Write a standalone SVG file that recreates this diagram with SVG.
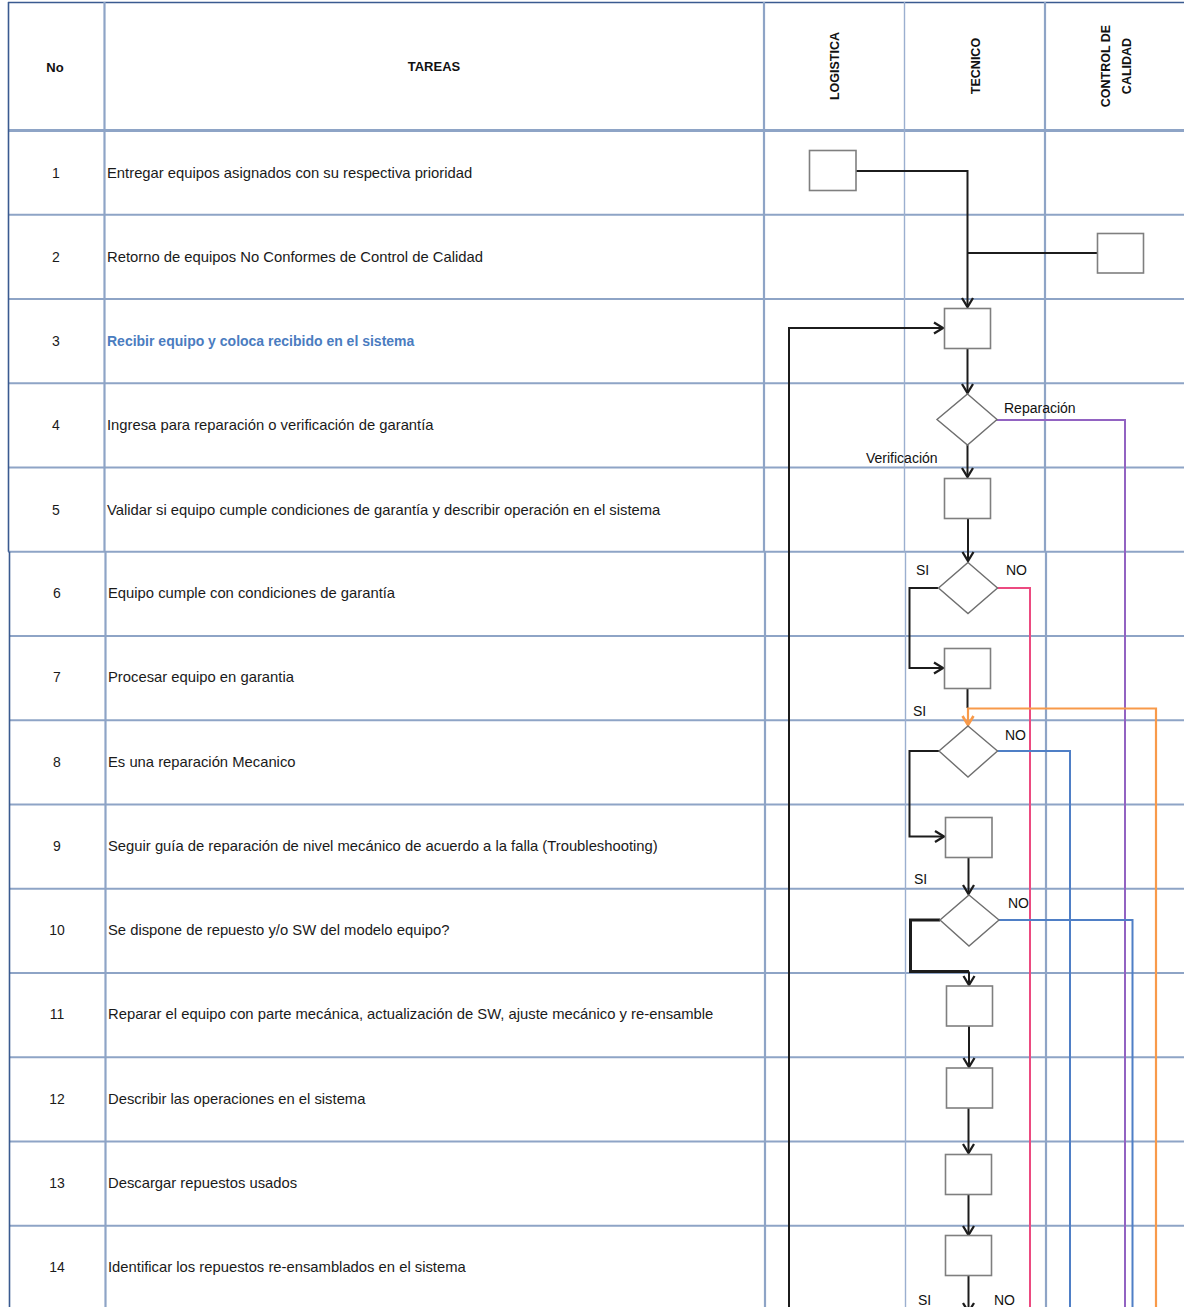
<svg xmlns="http://www.w3.org/2000/svg" width="1184" height="1307" viewBox="0 0 1184 1307">
<style>
.bg{fill:#ffffff}
.grid{stroke:#8ea4c6;stroke-width:2.2;fill:none}
.gridthin{stroke:#9bafcf;stroke-width:1.4;fill:none}
.edge{stroke:#3a5a90;stroke-width:1.6;fill:none}
.hdr{font-family:"Liberation Sans",Arial,sans-serif;font-weight:bold;fill:#111;}
.num{font-family:"Liberation Sans",Arial,sans-serif;font-size:14px;fill:#1a1a1a;text-anchor:middle}
.task{font-family:"Liberation Sans",Arial,sans-serif;font-size:14.8px;fill:#1a1a1a}
.task3{font-family:"Liberation Sans",Arial,sans-serif;font-size:14px;font-weight:bold;fill:#4a7cc0}
.lbl{font-family:"Liberation Sans",Arial,sans-serif;font-size:14px;fill:#111}
.box{fill:#ffffff;stroke:#7f7f7f;stroke-width:1.6}
.dia{fill:#ffffff;stroke:#6f6f6f;stroke-width:1.4}
.k{stroke:#1c1c1c;stroke-width:2;fill:none}
.kk{stroke:#1c1c1c;stroke-width:3;fill:none}
.pink{stroke:#ec4a80;stroke-width:2;fill:none}
.purple{stroke:#9263c2;stroke-width:2;fill:none}
.blue{stroke:#4f7fc6;stroke-width:2;fill:none}
.orange{stroke:#f89a4a;stroke-width:2.2;fill:none}
</style>
<defs>
<marker id="ak" markerUnits="userSpaceOnUse" markerWidth="16" markerHeight="16" viewBox="-11 -8 13 16" refX="0" refY="0" orient="auto">
<path d="M-9,-5.5 L0,0 L-9,5.5" fill="none" stroke="#1c1c1c" stroke-width="2.3"/>
</marker>
<marker id="ao" markerUnits="userSpaceOnUse" markerWidth="16" markerHeight="16" viewBox="-11 -8 13 16" refX="0" refY="0" orient="auto">
<path d="M-9,-5.5 L0,0 L-9,5.5" fill="none" stroke="#f89a4a" stroke-width="2.6"/>
</marker>
</defs>
<rect class="bg" x="0" y="0" width="1184" height="1307"/>

<g id="table">
<line class="edge" x1="8" y1="2.5" x2="1184" y2="2.5"/>
<line class="grid" x1="8" y1="130.5" x2="1184" y2="130.5" style="stroke-width:3.2"/>
<line class="grid" x1="8" y1="214.75" x2="1184" y2="214.75"/>
<line class="grid" x1="8" y1="299" x2="1184" y2="299"/>
<line class="grid" x1="8" y1="383.25" x2="1184" y2="383.25"/>
<line class="grid" x1="8" y1="467.5" x2="1184" y2="467.5"/>
<line class="grid" x1="8" y1="551.75" x2="1184" y2="551.75"/>
<line class="grid" x1="9" y1="636" x2="1184" y2="636"/>
<line class="grid" x1="9" y1="720.25" x2="1184" y2="720.25"/>
<line class="grid" x1="9" y1="804.5" x2="1184" y2="804.5"/>
<line class="grid" x1="9" y1="888.75" x2="1184" y2="888.75"/>
<line class="grid" x1="9" y1="973" x2="1184" y2="973"/>
<line class="grid" x1="9" y1="1057.25" x2="1184" y2="1057.25"/>
<line class="grid" x1="9" y1="1141.5" x2="1184" y2="1141.5"/>
<line class="grid" x1="9" y1="1225.75" x2="1184" y2="1225.75"/>
<line class="edge" x1="8.5" y1="2" x2="8.5" y2="551.75"/>
<line class="edge" x1="9.5" y1="551.75" x2="9.5" y2="1307"/>
<line class="grid" x1="104.5" y1="2" x2="104.5" y2="551.75"/>
<line class="grid" x1="105.5" y1="551.75" x2="105.5" y2="1307"/>
<line class="grid" x1="764" y1="2" x2="764" y2="551.75"/>
<line class="grid" x1="765" y1="551.75" x2="765" y2="1307"/>
<line class="gridthin" x1="904.5" y1="2" x2="904.5" y2="551.75"/>
<line class="gridthin" x1="905.5" y1="551.75" x2="905.5" y2="1307"/>
<line class="grid" x1="1045" y1="2" x2="1045" y2="551.75"/>
<line class="grid" x1="1046" y1="551.75" x2="1046" y2="1307"/>
</g>

<g id="header">
<text class="hdr" x="55" y="72" font-size="13" text-anchor="middle">No</text>
<text class="hdr" x="434" y="71" font-size="13" text-anchor="middle">TAREAS</text>
<text class="hdr" font-size="12.5" text-anchor="middle" transform="translate(839,66) rotate(-90)">LOGISTICA</text>
<text class="hdr" font-size="12.5" text-anchor="middle" transform="translate(980,66) rotate(-90)">TECNICO</text>
<text class="hdr" font-size="12.5" text-anchor="middle" transform="translate(1110,66) rotate(-90)">CONTROL DE</text>
<text class="hdr" font-size="12.5" text-anchor="middle" transform="translate(1131,66) rotate(-90)">CALIDAD</text>
</g>

<g id="rows">
<text class="num" x="56" y="177.5">1</text>
<text class="task" x="107" y="177.5">Entregar equipos asignados con su respectiva prioridad</text>
<text class="num" x="56" y="261.8">2</text>
<text class="task" x="107" y="261.8">Retorno de equipos No Conformes de Control de Calidad</text>
<text class="num" x="56" y="346">3</text>
<text class="task3" x="107" y="346">Recibir equipo y coloca recibido en el sistema</text>
<text class="num" x="56" y="430.3">4</text>
<text class="task" x="107" y="430.3">Ingresa para reparación o verificación de garantía</text>
<text class="num" x="56" y="514.5">5</text>
<text class="task" x="107" y="514.5">Validar si equipo cumple condiciones de garantía y describir operación en el sistema</text>
<text class="num" x="57" y="598">6</text>
<text class="task" x="108" y="598">Equipo cumple con condiciones de garantía</text>
<text class="num" x="57" y="682.3">7</text>
<text class="task" x="108" y="682.3">Procesar equipo en garantia</text>
<text class="num" x="57" y="766.5">8</text>
<text class="task" x="108" y="766.5">Es una reparación Mecanico</text>
<text class="num" x="57" y="850.8">9</text>
<text class="task" x="108" y="850.8">Seguir guía de reparación de nivel mecánico de acuerdo a la falla (Troubleshooting)</text>
<text class="num" x="57" y="935">10</text>
<text class="task" x="108" y="935">Se dispone de repuesto y/o SW del modelo equipo?</text>
<text class="num" x="57" y="1019.3">11</text>
<text class="task" x="108" y="1019.3">Reparar el equipo con parte mecánica, actualización de SW, ajuste mecánico y re-ensamble</text>
<text class="num" x="57" y="1103.5">12</text>
<text class="task" x="108" y="1103.5">Describir las operaciones en el sistema</text>
<text class="num" x="57" y="1187.8">13</text>
<text class="task" x="108" y="1187.8">Descargar repuestos usados</text>
<text class="num" x="57" y="1272">14</text>
<text class="task" x="108" y="1272">Identificar los repuestos re-ensamblados en el sistema</text>
</g>

<g id="connectors">
<polyline class="k" points="856,171 967.5,171 967.5,307" marker-end="url(#ak)"/>
<polyline class="k" points="1097,253 967.5,253"/>
<polyline class="k" points="789,1307 789,328 943,328" marker-end="url(#ak)"/>
<line class="k" x1="967.5" y1="348" x2="967.5" y2="393" marker-end="url(#ak)"/>
<line class="k" x1="967.5" y1="445" x2="967.5" y2="477" marker-end="url(#ak)"/>
<polyline class="purple" points="996,420 1125,420 1125,1307"/>
<line class="k" x1="968" y1="519" x2="968" y2="561" marker-end="url(#ak)"/>
<polyline class="k" points="938,588 909.5,588 909.5,668 943,668" marker-end="url(#ak)"/>
<polyline class="pink" points="997,588 1030,588 1030,1307"/>
<line class="k" x1="967.5" y1="688" x2="967.5" y2="708"/>
<polyline class="orange" points="1156,1307 1156,708.5 968,708.5 968,725" marker-end="url(#ao)"/>
<polyline class="blue" points="997,751 1070,751 1070,1307"/>
<polyline class="k" points="939,751 909.5,751 909.5,836.5 944,836.5" marker-end="url(#ak)"/>
<line class="k" x1="968.5" y1="857" x2="968.5" y2="894" marker-end="url(#ak)"/>
<polyline class="blue" points="999,920 1132.5,920 1132.5,1307"/>
<polyline class="kk" points="940,920 910.5,920 910.5,971.5 969,971.5"/>
<line class="k" x1="969" y1="971.5" x2="969" y2="985" marker-end="url(#ak)"/>
<line class="k" x1="969" y1="1026" x2="969" y2="1067" marker-end="url(#ak)"/>
<line class="k" x1="968.5" y1="1108" x2="968.5" y2="1153" marker-end="url(#ak)"/>
<line class="k" x1="968.5" y1="1194" x2="968.5" y2="1235" marker-end="url(#ak)"/>
<line class="k" x1="968.5" y1="1276" x2="968.5" y2="1312" marker-end="url(#ak)"/>
</g>

<g id="labels">
<text class="lbl" x="1004" y="412.5">Reparación</text>
<text class="lbl" x="866" y="463">Verificación</text>
<text class="lbl" x="916" y="575">SI</text>
<text class="lbl" x="1006" y="575">NO</text>
<text class="lbl" x="913" y="716">SI</text>
<text class="lbl" x="1005" y="739.5">NO</text>
<text class="lbl" x="914" y="884">SI</text>
<text class="lbl" x="1008" y="908">NO</text>
<text class="lbl" x="918" y="1305">SI</text>
<text class="lbl" x="994" y="1305">NO</text>
</g>

<g id="n1"><rect class="box" x="809.5" y="150.5" width="46.5" height="40"/></g>
<g id="n2"><rect class="box" x="1097.5" y="233.5" width="46" height="39.5"/></g>
<g id="n3"><rect class="box" x="944.5" y="308.5" width="46" height="40"/></g>
<g id="n4"><polygon class="dia" points="967.5,394 997,419.5 967.5,445 937,419.5"/></g>
<g id="n5"><rect class="box" x="944.5" y="478.5" width="46" height="40"/></g>
<g id="n6"><polygon class="dia" points="968,562.5 997.5,588 968,613.5 938.5,588"/></g>
<g id="n7"><rect class="box" x="944.5" y="648.5" width="46" height="40"/></g>
<g id="n8"><polygon class="dia" points="968,726 997.5,751 968,777 939,751"/></g>
<g id="n9"><rect class="box" x="945.5" y="817.5" width="46.5" height="40"/></g>
<g id="n10"><polygon class="dia" points="969,895 999,920 969,946 940,920"/></g>
<g id="n11"><rect class="box" x="946.5" y="986" width="46" height="40"/></g>
<g id="n12"><rect class="box" x="946.5" y="1068" width="46" height="40"/></g>
<g id="n13"><rect class="box" x="945.5" y="1154.5" width="46" height="40"/></g>
<g id="n14"><rect class="box" x="945.5" y="1235.5" width="46" height="40"/></g>
</svg>
